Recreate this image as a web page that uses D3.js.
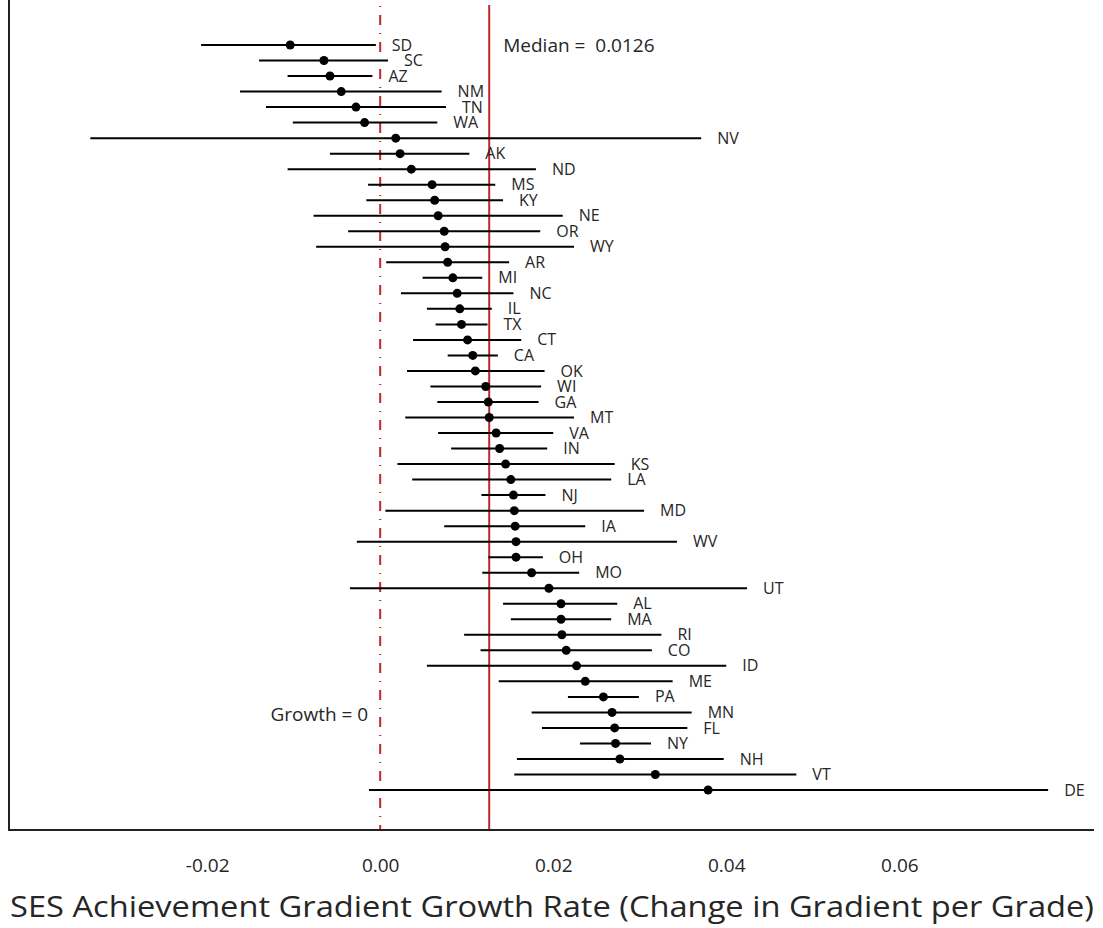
<!DOCTYPE html>
<html>
<head>
<meta charset="utf-8">
<script src="https://cdn.jsdelivr.net/npm/d3@7"></script>
<style>
    body { margin: 0; background: white; }
    #chart { width: 1103px; height: 928px; }
    text { font-family: "Open Sans", "Noto Sans", sans-serif; font-weight: 400; fill: #262626; }
</style>
</head>
<body>
<div id="chart"></div>
<script>
// state order, top to bottom
const states = ["SD","SC","AZ","NM","TN","WA","NV","AK","ND","MS","KY","NE","OR","WY","AR","MI","NC","IL","TX","CT","CA","OK","WI","GA","MT","VA","IN","KS","LA","NJ","MD","IA","WV","OH","MO","UT","AL","MA","RI","CO","ID","ME","PA","MN","FL","NY","NH","VT","DE"];

// growth rate estimates
const estimates = [-0.0104,-0.0065,-0.0058,-0.0045,-0.0028,-0.0018,0.0018,0.0023,0.0036,0.0060,0.0063,0.0067,0.0074,0.0075,0.0078,0.0084,0.0089,0.0092,0.0094,0.0101,0.0107,0.0110,0.0122,0.0125,0.0126,0.0134,0.0138,0.0145,0.0151,0.0154,0.0155,0.0156,0.0157,0.0157,0.0175,0.0195,0.0209,0.0209,0.0210,0.0215,0.0227,0.0237,0.0258,0.0268,0.0271,0.0272,0.0277,0.0318,0.0379];

// lower bounds
const lowers = [-0.0207,-0.0140,-0.0107,-0.0162,-0.0132,-0.0101,-0.0335,-0.0058,-0.0107,-0.0014,-0.0016,-0.0077,-0.0037,-0.0074,0.0007,0.0049,0.0024,0.0054,0.0064,0.0038,0.0078,0.0031,0.0058,0.0066,0.0029,0.0067,0.0082,0.0020,0.0037,0.0117,0.0006,0.0074,-0.0027,0.0125,0.0118,-0.0035,0.0142,0.0151,0.0097,0.0116,0.0054,0.0137,0.0217,0.0175,0.0187,0.0231,0.0158,0.0155,-0.0013];

// upper bounds
const uppers = [-0.0005,0.0009,-0.0009,0.0071,0.0076,0.0066,0.0371,0.0103,0.0180,0.0133,0.0142,0.0211,0.0185,0.0224,0.0149,0.0118,0.0154,0.0129,0.0124,0.0163,0.0136,0.0190,0.0186,0.0183,0.0224,0.0200,0.0193,0.0271,0.0267,0.0191,0.0305,0.0237,0.0343,0.0188,0.0230,0.0424,0.0274,0.0267,0.0325,0.0314,0.0400,0.0338,0.0299,0.0360,0.0355,0.0313,0.0397,0.0481,0.0772];

const medianValue = 0.0126;
const xTicks = [-0.02, 0.00, 0.02, 0.04, 0.06];
const xDomain = [-0.0429, 0.0825];

class ForestVis {
    constructor(_parentElement) {
        this.parentElement = _parentElement;
        this.initVis();
    }

    initVis() {
        let vis = this;

        vis.width = 1103;
        vis.height = 928;

        vis.svg = d3.select("#" + vis.parentElement).append("svg")
            .attr("width", vis.width)
            .attr("height", vis.height);

        vis.plotTop = 5;
        vis.plotBottom = 830;
        vis.plotLeft = 9;
        vis.plotRight = 1094;

        vis.x = d3.scaleLinear()
            .domain(xDomain)
            .range([vis.plotLeft, vis.plotRight]);

        vis.y = d3.scalePoint()
            .domain(states)
            .range([45, 790]);

        vis.red = "#c0272d";

        vis.wrangleData();
    }

    wrangleData() {
        let vis = this;
        vis.displayData = states.map((s, i) => ({
            state: s,
            est: estimates[i],
            lo: lowers[i],
            hi: uppers[i]
        }));
        vis.updateVis();
    }

    updateVis() {
        let vis = this;

        // reference lines
        vis.svg.append("line")
            .attr("x1", vis.x(0)).attr("x2", vis.x(0))
            .attr("y1", vis.plotTop).attr("y2", vis.plotBottom)
            .attr("stroke", vis.red)
            .attr("stroke-width", 2)
            .attr("stroke-dasharray", "1,8,10,8")
            .attr("stroke-dashoffset", -1);

        vis.svg.append("line")
            .attr("x1", vis.x(medianValue)).attr("x2", vis.x(medianValue))
            .attr("y1", vis.plotTop).attr("y2", vis.plotBottom)
            .attr("stroke", vis.red)
            .attr("stroke-width", 2);

        // whiskers
        vis.svg.selectAll(".whisker")
            .data(vis.displayData)
            .enter()
            .append("line")
            .attr("class", "whisker")
            .attr("x1", d => vis.x(d.lo))
            .attr("x2", d => vis.x(d.hi))
            .attr("y1", d => vis.y(d.state))
            .attr("y2", d => vis.y(d.state))
            .attr("stroke", "black")
            .attr("stroke-width", 2);

        // points
        vis.svg.selectAll(".dot")
            .data(vis.displayData)
            .enter()
            .append("circle")
            .attr("class", "dot")
            .attr("cx", d => vis.x(d.est))
            .attr("cy", d => vis.y(d.state))
            .attr("r", 4.5)
            .attr("fill", "black");

        // state labels
        vis.svg.selectAll(".state-label")
            .data(vis.displayData)
            .enter()
            .append("text")
            .attr("class", "state-label")
            .attr("x", d => vis.x(d.hi) + 16)
            .attr("y", d => vis.y(d.state))
            .attr("dy", "0.35em")
            .attr("font-size", 16)
            .text(d => d.state);

        // axis lines
        vis.svg.append("line")
            .attr("x1", vis.plotLeft).attr("x2", vis.plotLeft)
            .attr("y1", 0).attr("y2", vis.plotBottom)
            .attr("stroke", "#222").attr("stroke-width", 2);

        vis.svg.append("line")
            .attr("x1", vis.plotLeft - 1).attr("x2", vis.plotRight)
            .attr("y1", vis.plotBottom).attr("y2", vis.plotBottom)
            .attr("stroke", "#222").attr("stroke-width", 2);

        // x axis tick labels, no tick marks
        vis.xAxis = d3.axisBottom(vis.x)
            .tickValues(xTicks)
            .tickSize(0)
            .tickPadding(29)
            .tickFormat(d => d.toFixed(2));

        vis.svg.append("g")
            .attr("class", "x-axis")
            .attr("transform", "translate(0," + vis.plotBottom + ")")
            .call(vis.xAxis)
            .call(g => g.select(".domain").remove())
            .selectAll("text")
            .attr("font-size", 19)
            .attr("fill", "#262626")
            .style("font-family", "'Open Sans', sans-serif");

        // annotations
        vis.svg.append("text")
            .attr("x", vis.x(medianValue) + 14)
            .attr("y", 45)
            .attr("dy", "0.35em")
            .attr("font-size", 19)
            .attr("xml:space", "preserve")
            .text("Median =  " + medianValue.toFixed(4));

        vis.svg.append("text")
            .attr("x", vis.x(0) - 12)
            .attr("y", 714)
            .attr("dy", "0.35em")
            .attr("text-anchor", "end")
            .attr("font-size", 19)
            .text("Growth = 0");

        // x axis title
        vis.svg.append("text")
            .attr("x", 552)
            .attr("y", 906)
            .attr("dy", "0.35em")
            .attr("text-anchor", "middle")
            .attr("font-size", 30)
            .attr("textLength", 1084)
            .attr("lengthAdjust", "spacingAndGlyphs")
            .text("SES Achievement Gradient Growth Rate (Change in Gradient per Grade)");
    }
}

new ForestVis("chart");
</script>
</body>
</html>
